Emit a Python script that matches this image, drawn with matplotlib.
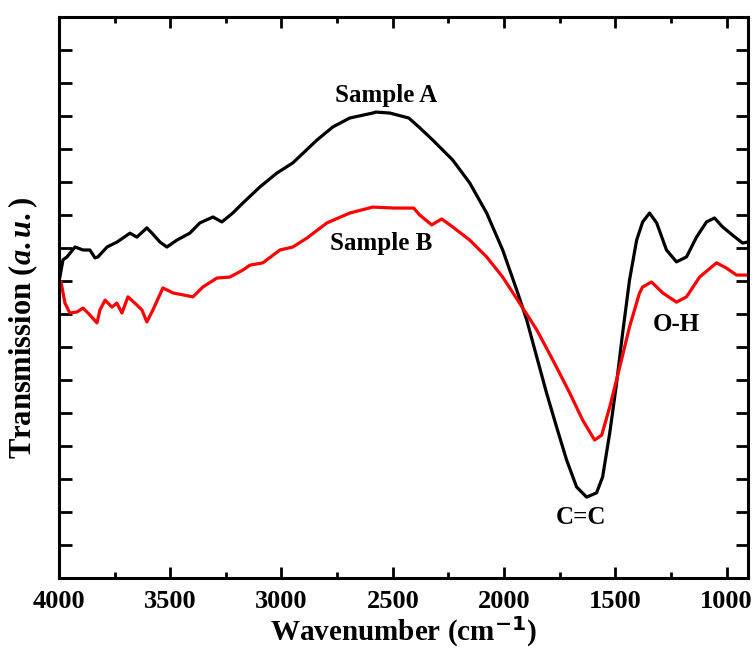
# FTIR transmission spectra of two samples
import matplotlib
matplotlib.use('Agg')
import matplotlib.pyplot as plt
from matplotlib.ticker import MultipleLocator, NullFormatter

# ----------------------------------------------------------------------
# Data (wavenumber in cm^-1, transmission in a.u.)

wn_a = [3996, 3982, 3964, 3928, 3892, 3861, 3838, 3825, 3784, 3739, 3681, 3650,
        3605, 3582, 3546, 3515, 3470, 3412, 3367, 3308, 3268, 3219, 3174, 3097,
        3021, 2949, 2841, 2769, 2693, 2590, 2576, 2513, 2428, 2383, 2320, 2231,
        2154, 2078, 2006, 1943, 1898, 1853, 1809, 1764, 1719, 1674, 1629, 1584,
        1557, 1525, 1494, 1467, 1436, 1404, 1377, 1346, 1314, 1270, 1225, 1180,
        1135, 1090, 1054, 1018, 973, 928, 906]
tr_a = [9.12, 9.64, 9.73, 10.03, 9.94, 9.94, 9.70, 9.73, 10.03, 10.18, 10.45, 10.33,
        10.61, 10.45, 10.18, 10.03, 10.24, 10.45, 10.76, 10.94, 10.79, 11.06, 11.36, 11.85,
        12.27, 12.58, 13.27, 13.67, 13.94, 14.09, 14.12, 14.09, 13.94, 13.67, 13.27, 12.67,
        11.97, 11.06, 9.94, 8.73, 7.82, 6.70, 5.61, 4.58, 3.58, 2.76, 2.45, 2.58,
        3.06, 4.39, 5.91, 7.42, 9.03, 10.24, 10.79, 11.06, 10.76, 9.94, 9.58, 9.73,
        10.33, 10.79, 10.91, 10.64, 10.39, 10.15, 10.18]

wn_b = [3991, 3973, 3951, 3919, 3892, 3861, 3829, 3816, 3793, 3762, 3740, 3717,
        3690, 3659, 3627, 3605, 3578, 3533, 3488, 3443, 3398, 3353, 3290, 3232,
        3174, 3142, 3084, 3007, 2949, 2886, 2796, 2693, 2590, 2491, 2406, 2379,
        2325, 2280, 2231, 2154, 2078, 2006, 1930, 1853, 1781, 1705, 1647, 1593,
        1561, 1525, 1480, 1436, 1391, 1377, 1337, 1287, 1225, 1180, 1121, 1045,
        1000, 955, 906]
tr_b = [8.97, 8.33, 8.03, 8.06, 8.18, 7.97, 7.73, 8.12, 8.42, 8.21, 8.33, 8.03,
        8.52, 8.33, 8.12, 7.76, 8.12, 8.79, 8.64, 8.58, 8.52, 8.82, 9.09, 9.12,
        9.33, 9.48, 9.55, 9.94, 10.03, 10.30, 10.76, 11.06, 11.24, 11.21, 11.21, 11.00,
        10.70, 10.88, 10.64, 10.24, 9.73, 9.12, 8.33, 7.52, 6.61, 5.61, 4.79, 4.18,
        4.33, 5.18, 6.39, 7.61, 8.64, 8.82, 8.97, 8.64, 8.36, 8.52, 9.12, 9.55,
        9.39, 9.18, 9.18]

# ----------------------------------------------------------------------
# Plot

plt.rcParams['font.family'] = ['Liberation Serif', 'DejaVu Serif']
plt.rcParams['font.weight'] = 'bold'
plt.rcParams['mathtext.fontset'] = 'custom'
plt.rcParams['mathtext.rm'] = 'Liberation Serif:bold'
plt.rcParams['mathtext.it'] = 'Liberation Serif:bold:italic'

fig = plt.figure(figsize=(7.56, 6.55), dpi=100)
ax = fig.add_axes([0.078, 0.1176, 0.911, 0.8564])

ax.plot(wn_a, tr_a, color='black', lw=2.3)
ax.plot(wn_b, tr_b, color='red', lw=2.3)

ax.set_xlim(4000, 905)
ax.set_ylim(0, 17)

ax.xaxis.set_major_locator(MultipleLocator(500))
ax.xaxis.set_minor_locator(MultipleLocator(250))
ax.yaxis.set_major_locator(MultipleLocator(1))
ax.yaxis.set_major_formatter(NullFormatter())
ax.tick_params(which='both', direction='in', top=True, right=True, width=2)
ax.tick_params(which='major', axis='x', length=8, labelsize=19, pad=9)
ax.tick_params(which='minor', axis='x', length=4.5)
ax.tick_params(which='major', axis='y', length=9)
for s in ax.spines.values():
    s.set_linewidth(2.2)

# peak annotations
ax.text(2530, 14.42, 'Sample A', fontsize=18, fontweight='bold', ha='center', va='baseline')
ax.text(2554, 10.15, 'Sample B', fontsize=18, fontweight='bold', ha='center', va='center')
ax.text(1652, 1.82, 'C=C', fontsize=18, fontweight='bold', ha='center', va='center')
ax.text(1225, 7.67, 'O-H', fontsize=18, fontweight='bold', ha='center', va='center')

ax.set_xlabel(r'Wavenumber (cm$^{\mathbf{-1}}$)', fontsize=21, fontweight='bold', labelpad=1)
ax.set_ylabel(r'Transmission ($a.u.$)', fontsize=22, fontweight='bold')
ax.yaxis.set_label_coords(-0.027, 0.446)

plt.savefig('out.png', dpi=100)
